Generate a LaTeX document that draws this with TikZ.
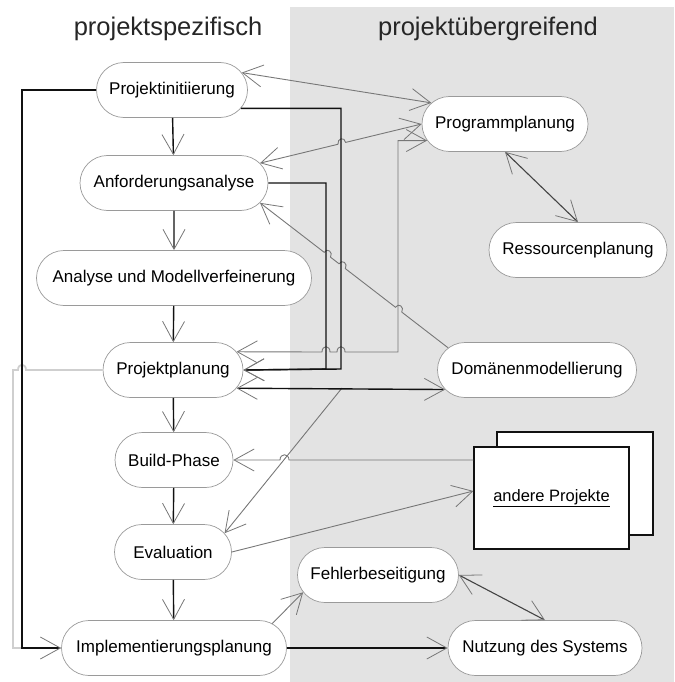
\documentclass[tikz,border=0pt]{standalone}
\usepackage{fontspec}
\setmainfont{Liberation Sans}
\usetikzlibrary{shapes.misc,arrows.meta,calc}

\definecolor{panel}{HTML}{E3E3E3}
\definecolor{rim}{HTML}{9A9A9A}
\definecolor{flow}{HTML}{777777}
\definecolor{faint}{HTML}{CFCFCF}
\definecolor{ink}{HTML}{111111}
\definecolor{dark}{HTML}{444444}

\begin{document}
\begin{tikzpicture}[x=1pt,y=-1pt,
  >={Straight Barb[length=20pt,width=22pt,line width=0.8pt,color=flow]},
  state/.style={rounded rectangle, draw=rim, line width=0.7pt, fill=white,
    minimum height=55pt, inner xsep=0pt, font=\fontsize{17}{20}\selectfont},
  title/.style={font=\fontsize{25.5}{30}\selectfont, text=black!85},
  solid flow/.style={draw=ink, line width=1.4pt},
  thin flow/.style={draw=flow, line width=0.9pt},
  pale flow/.style={draw=faint, line width=1.8pt},
  dark flow/.style={draw=dark, line width=1.1pt},
  sheet/.style={draw=ink, line width=1.2pt, fill=white}]

\useasboundingbox (0,0) rectangle (674,682);
\fill[panel] (290,7) rectangle (674,682);

% column titles
\node[title] (t1) at (168,29) {projektspezifisch};
\node[title] (t2) at (488,29) {projektübergreifend};

% project-specific activities
\node[state, minimum width=151pt] (pi) at (172,90)  {Projektinitiierung};
\node[state, minimum width=188pt] (af) at (174,183) {Anforderungsanalyse};
\node[state, minimum width=275pt] (am) at (174,278) {Analyse und Modellverfeinerung};
\node[state, minimum width=140pt] (pp) at (173,370) {Projektplanung};
\node[state, minimum width=118pt] (bp) at (174,460) {Build-Phase};
\node[state, minimum width=117pt] (ev) at (173,552) {Evaluation};
\node[state, minimum width=225pt] (im) at (174,648) {Implementierungsplanung};

% cross-project activities
\node[state, minimum width=166pt] (pg) at (505,124) {Programmplanung};
\node[state, minimum width=178pt] (rp) at (578,250) {Ressourcenplanung};
\node[state, minimum width=199pt] (dm) at (537,370) {Domänenmodellierung};
\node[state, minimum width=161pt] (fb) at (378,575) {Fehlerbeseitigung};
\node[state, minimum width=194pt] (ns) at (545,648) {Nutzung des Systems};

% stacked sheets for the other projects
\node[sheet, minimum width=156pt, minimum height=103pt] (apb) at (575,483.5) {};
\node[sheet, minimum width=155pt, minimum height=102pt,
  font=\fontsize{16.5}{19}\selectfont] (ap) at (551.5,498) {\underline{andere Projekte}};

\coordinate (split) at (342,388);

% light grey feedback from Projektplanung
\draw[pale flow] (pp.west) -- (26,370) .. controls +(0,-7) and +(0,-7) .. (18,370)
  -- (13,370) -- (13,648) -- (im.west);

% grey connectors
\draw[thin flow, <->] (pi.14) -- (pg.164);
\draw[thin flow, <->] (af.13)
  -- ($(af.13)!0.4823!(pg.west)$) .. controls +(-1,-6) and +(-1,-6) .. ($(af.13)!0.5297!(pg.west)$)
  -- (pg.west);
\draw[thin flow, ->] (dm.166)
  -- ($(dm.166)!0.2465!(af.-13)$) .. controls +(3,-5) and +(3,-5) .. ($(dm.166)!0.2799!(af.-13)$)
  -- ($(dm.166)!0.5465!(af.-13)$) .. controls +(3,-5) and +(3,-5) .. ($(dm.166)!0.5799!(af.-13)$)
  -- ($(dm.166)!0.6254!(af.-13)$) .. controls +(3,-5) and +(3,-5) .. ($(dm.166)!0.6588!(af.-13)$)
  -- (af.-13);
\draw[thin flow, <->] (pg.192) -| (398,352)
  -- (345,352) .. controls +(0,-7) and +(0,-7) .. (337,352)
  -- (330,352) .. controls +(0,-7) and +(0,-7) .. (322,352)
  -- (pp.16);
\draw[thin flow, ->] (split) -- (ev.20);
\draw[thin flow, ->] (bp.east -| ap.west)
  -- (289,460) .. controls +(0,-7) and +(0,-7) .. (280,460) -- (bp.east);
\draw[thin flow, ->] (ev.east) -- ([yshift=7pt]ap.west);
\draw[thin flow, ->] (im.14) -- (fb.193);

% dark grey two-way links
\draw[dark flow, <->] (pg.south) -- (rp.north);
\draw[dark flow, <->] (fb.east) -- (ns.north);

% black control flow
\draw[solid flow, ->] (pi) -- (af);
\draw[solid flow, ->] (af) -- (am);
\draw[solid flow, ->] (am) -- (pp);
\draw[solid flow, ->] (pp) -- (bp);
\draw[solid flow, ->] (bp) -- (ev);
\draw[solid flow, ->] (ev) -- (im);
\draw[solid flow, ->] (pi.west) -- (22,90) -- (22,648) -- (im.west);
\draw[solid flow, ->] (pi.-15) -| (341,369) -- (pp.east);
\draw[solid flow, ->] (af.east) -| (326,369) -- (pp.east);
\draw[solid flow, <->] (pp.-16) -- (dm.192);
\draw[solid flow, ->] (im.east) -- (ns.west);

\end{tikzpicture}
\end{document}
